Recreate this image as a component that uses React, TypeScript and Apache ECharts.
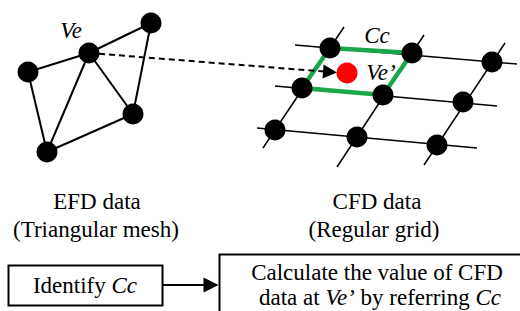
import React, { useEffect, useRef } from "react";
import * as echarts from "echarts";

// Triangular mesh (EFD) nodes: [x, y] in diagram units
const meshNodes: number[][] = [
  [28, 72],
  [89, 53],
  [151, 23],
  [133, 114],
  [47, 152],
];
const meshEdges: number[][] = [
  [0, 1], [0, 4], [1, 4], [1, 3], [1, 2], [2, 3], [3, 4],
];
// Regular grid (CFD) nodes
const gridNodes: number[][] = [
  [330, 48], [412, 53], [492, 62],
  [302, 88], [383, 95], [463, 102],
  [275, 130], [357, 137], [437, 145],
];
const gridRows: number[][][] = [
  [[295, 45], [517, 64]],
  [[275, 86], [497, 106]],
  [[257, 128], [477, 148]],
];
const gridCols: number[][][] = [
  [[344, 27], [263, 148]],
  [[424, 35], [337, 167]],
  [[505, 43], [424, 165]],
];
const cellCc: number[][] = [[330, 48], [412, 53], [383, 95], [302, 88], [330, 48]];
const pointVe2: number[][] = [[347, 73]];
const mapArrow: number[][] = [[89, 53], [330, 72]];
const flowArrow: number[][] = [[162, 285], [211, 285]];

const FAMILY = "Liberation Serif";

export default function App() {
  const ref = useRef<HTMLDivElement>(null);
  useEffect(() => {
    document.body.style.margin = "0";
    const chart = echarts.init(ref.current!, null, { renderer: "svg" });
    const base = { fill: "#000", fontFamily: FAMILY, fontSize: 23 };
    const txt = (x: number, y: number, text: string, italic = false) => ({
      type: "text",
      x,
      y,
      style: {
        ...base,
        text,
        fontStyle: italic ? "italic" : "normal",
        align: "center",
        verticalAlign: "middle",
      },
      z: 100,
    });
    const rich = {
      n: { ...base, fontStyle: "normal" },
      i: { ...base, fontStyle: "italic" },
    };
    chart.setOption({
      animation: false,
      backgroundColor: "#fff",
      grid: { left: 0, right: 0, top: 0, bottom: 0 },
      xAxis: { type: "value", min: 0, max: 520, show: false },
      yAxis: { type: "value", min: 0, max: 311, inverse: true, show: false },
      series: [
        {
          type: "lines",
          coordinateSystem: "cartesian2d",
          silent: true,
          lineStyle: { color: "#000", width: 1.5, opacity: 1 },
          data: [...gridRows, ...gridCols].map((c) => ({ coords: c })),
          z: 1,
        },
        {
          type: "lines",
          coordinateSystem: "cartesian2d",
          silent: true,
          lineStyle: { color: "#000", width: 2, opacity: 1 },
          data: meshEdges.map(([a, b]) => ({ coords: [meshNodes[a], meshNodes[b]] })),
          z: 1,
        },
        {
          type: "lines",
          coordinateSystem: "cartesian2d",
          polyline: true,
          silent: true,
          lineStyle: { color: "#1aa64a", width: 4.5, opacity: 1, join: "miter" },
          data: [{ coords: cellCc }],
          z: 2,
        },
        {
          type: "lines",
          coordinateSystem: "cartesian2d",
          silent: true,
          symbol: ["none", "triangle"],
          symbolSize: [13, 14],
          lineStyle: { color: "#000", width: 2, type: [6, 4], opacity: 1 },
          data: [{ coords: mapArrow }],
          z: 3,
        },
        {
          type: "lines",
          coordinateSystem: "cartesian2d",
          silent: true,
          symbol: ["none", "triangle"],
          symbolSize: [14, 15],
          lineStyle: { color: "#000", width: 2, opacity: 1 },
          data: [{ coords: flowArrow }],
          z: 3,
        },
        {
          type: "scatter",
          symbolSize: 21,
          itemStyle: { color: "#000", opacity: 1 },
          data: [...meshNodes, ...gridNodes],
          z: 5,
        },
        {
          type: "scatter",
          symbolSize: 21,
          itemStyle: { color: "#f00", opacity: 1 },
          data: pointVe2,
          z: 5,
        },
      ],
      graphic: [
        txt(71, 30, "Ve", true),
        txt(377, 35, "Cc", true),
        txt(381, 72, "Ve’", true),
        txt(97, 201, "EFD data"),
        txt(96, 229, "(Triangular mesh)"),
        txt(377, 201, "CFD data"),
        txt(374, 229, "(Regular grid)"),
        {
          type: "rect",
          shape: { x: 8.5, y: 265.5, width: 154, height: 40 },
          style: { fill: "#fff", stroke: "#000", lineWidth: 2 },
          z: 50,
        },
        {
          type: "rect",
          shape: { x: 219.5, y: 254.5, width: 330, height: 80 },
          style: { fill: "#fff", stroke: "#000", lineWidth: 2 },
          z: 50,
        },
        {
          type: "text",
          x: 85,
          y: 285,
          style: {
            rich,
            text: "{n|Identify }{i|Cc}",
            align: "center",
            verticalAlign: "middle",
          },
          z: 100,
        },
        txt(377, 272, "Calculate the value of CFD"),
        {
          type: "text",
          x: 380,
          y: 297,
          style: {
            rich,
            text: "{n|data at }{i|Ve’}{n| by referring }{i|Cc}",
            align: "center",
            verticalAlign: "middle",
          },
          z: 100,
        },
      ],
    });
    return () => chart.dispose();
  }, []);
  return <div ref={ref} style={{ width: 520, height: 311 }} />;
}
